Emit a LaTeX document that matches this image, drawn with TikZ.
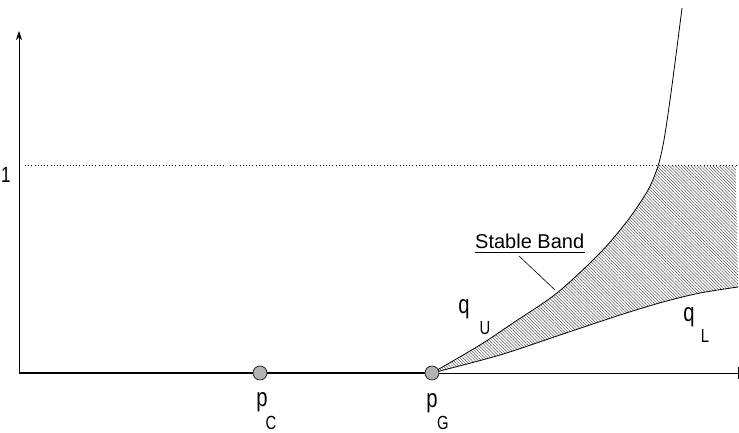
\documentclass[tikz,border=0pt]{standalone}
\usepackage{fontspec}
\setmainfont{Liberation Sans}
\newfontfamily\condfont[FakeStretch=0.78]{Liberation Sans}
\usetikzlibrary{arrows.meta,patterns.meta}
\pgfdeclarelayer{bg}
\pgfsetlayers{bg,main}
\begin{document}
\begin{tikzpicture}[x=1pt,y=-1pt,
  axis/.style={line width=0.7pt},
  thickaxis/.style={line width=2.6pt},
  curve/.style={line width=0.8pt},
  dot/.style={circle,draw=black,line width=0.6pt,fill=black!30,minimum size=14pt,inner sep=0pt},
  lbl/.style={inner sep=0pt,font=\condfont\fontsize{26}{26}\selectfont},
  sub/.style={inner sep=0pt,font=\condfont\fontsize{19}{19}\selectfont},
  dots/.style={line width=1pt,dash pattern=on 1pt off 2.2pt}]
\useasboundingbox (0,0) rectangle (739,433);
\node[dot] (pc) at (260,373) {};
\node[dot] (pg) at (432,373) {};
\coordinate (o) at (19,373);
\coordinate (ytop) at (19,31);
\coordinate (xend) at (738,373);
\begin{pgfonlayer}{bg}
% hatched band
\fill[pattern={Lines[angle=-45,distance=2.2pt,line width=0.45pt]},pattern color=black!70]
  plot[smooth] coordinates {(432,373) (480,345) (513,323) (557,293) (600,253) (628,220) (648,190) (658,166)}
  -- (736,166) -- (738,287)
  -- plot[smooth] coordinates {(738,287) (700,293) (663,302) (620,315) (560,335) (500,355) (432,373)} -- cycle;
% axes
\draw[axis,-{Stealth[length=9pt,width=6pt]}] (o) -- (ytop);
\draw[thickaxis] (o) -- (pc.center) -- (pg.center);
\draw[axis] (pg.center) -- (xend);
\draw[axis] (738,367) -- (738,379);
% curves
\draw[curve] plot[smooth] coordinates {(432,373) (480,345) (513,323) (557,293) (600,253) (628,220) (648,190) (658,166) (664,140) (670,100) (676,55) (682,8)};
\draw[curve] plot[smooth] coordinates {(432,373) (500,355) (560,335) (620,315) (663,302) (700,293) (738,287)};
\end{pgfonlayer}
% level 1
\coordinate (d1) at (25,166);
\coordinate (d2) at (225,166);
\coordinate (d3) at (230,166);
\coordinate (d4) at (736,166);
\draw[dots] (d1) -- (d2);
\draw[dots] (d3) -- (d4);
\node[inner sep=0pt,font=\condfont\fontsize{22}{22}\selectfont] (one) at (6,175) {1};
% labels
\node[lbl] (pcl) at (262,402) {p};
\node[sub] (pcs) at (271,423) {C};
\node[lbl] (pgl) at (432,403) {p};
\node[sub] (pgs) at (443,423) {G};
\node[lbl] (qu) at (464,309) {q};
\node[sub] (qus) at (485,328.5) {U};
\node[lbl] (ql) at (689,317) {q};
\node[sub] (qls) at (705,335.5) {L};
\node[inner sep=0pt,font=\fontsize{20}{20}\selectfont,anchor=base west] (sb) at (475,248) {Stable Band};
\draw[line width=0.8pt] (475,252.5) -- (585,252.5);
\coordinate (lead1) at (519,256);
\coordinate (lead2) at (555,290);
\draw[line width=0.6pt] (lead1) -- (lead2);
\end{tikzpicture}
\end{document}
